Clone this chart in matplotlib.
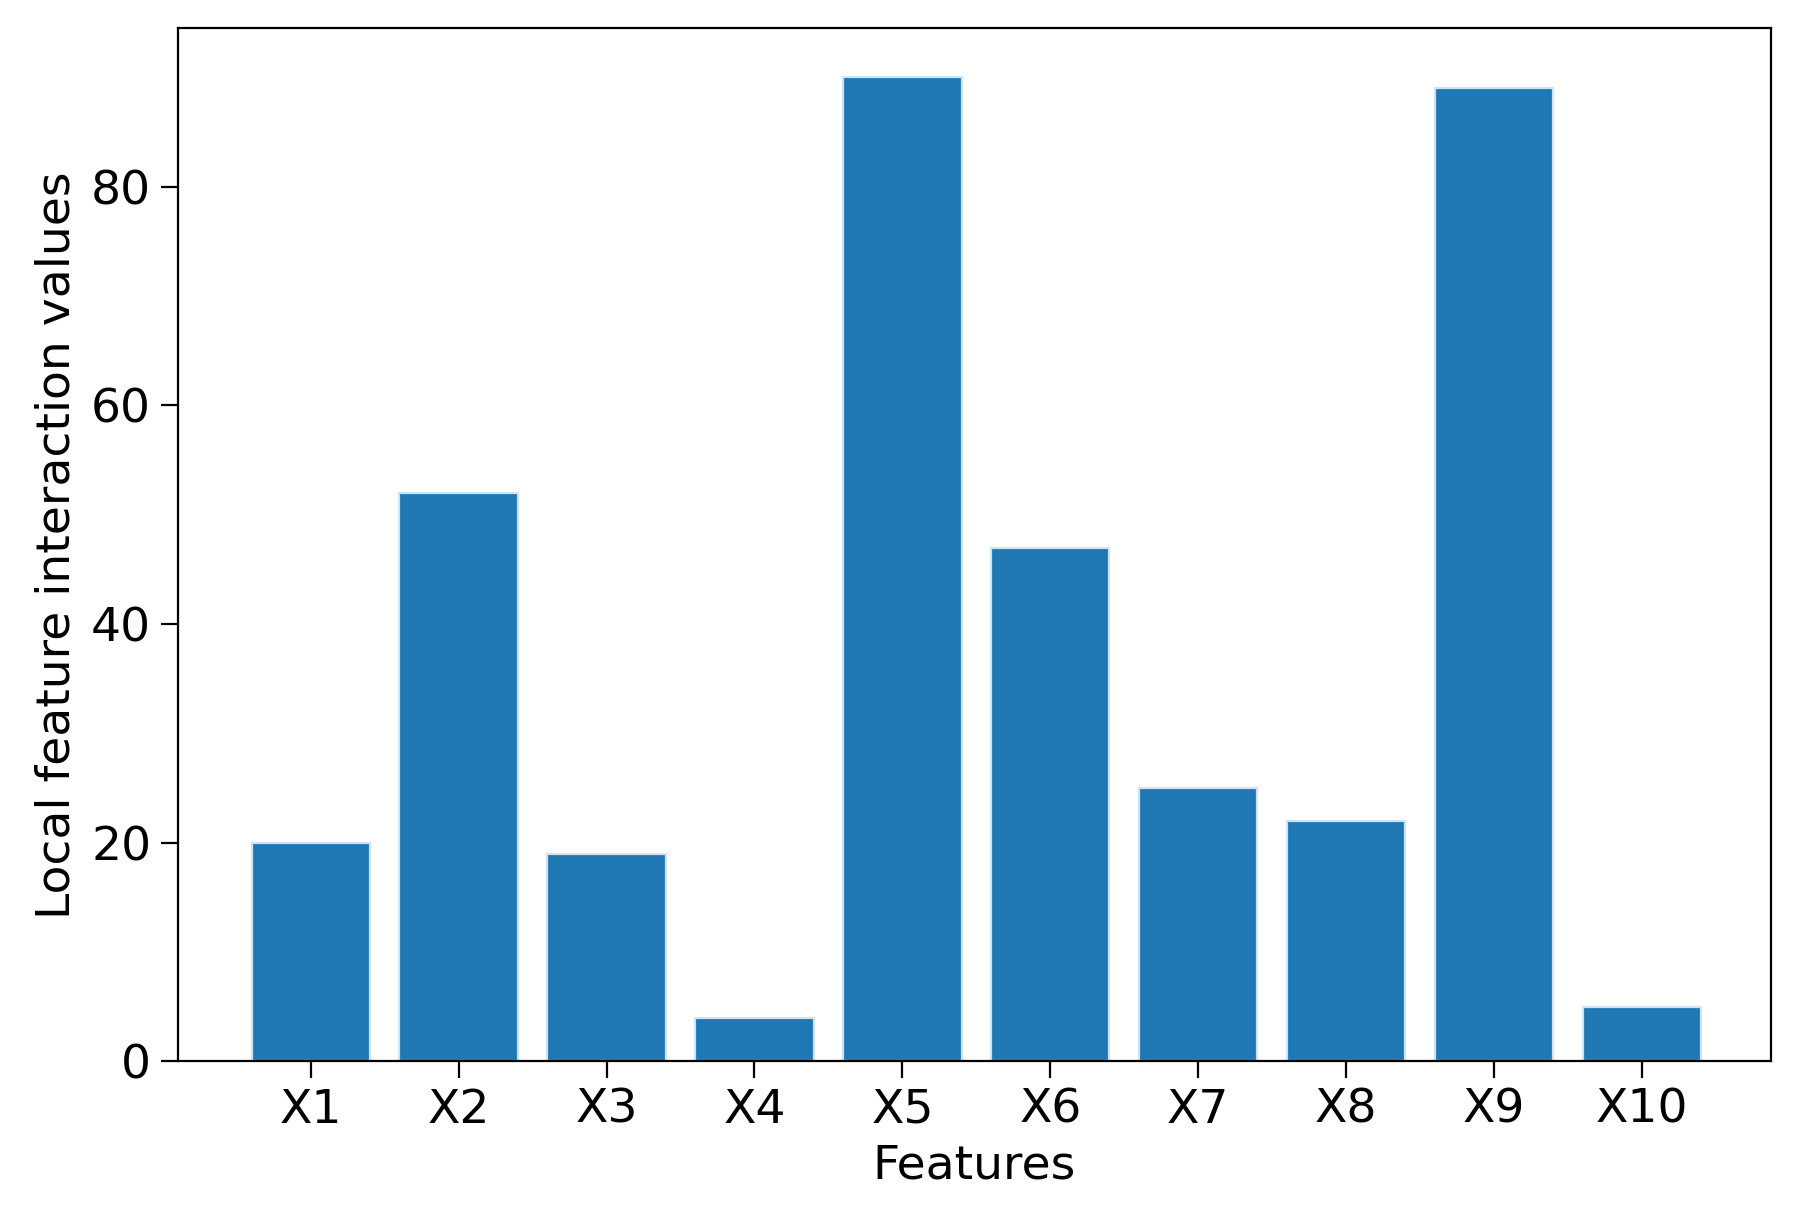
import matplotlib
matplotlib.use("Agg")
import matplotlib.pyplot as plt

features = ["X1", "X2", "X3", "X4", "X5", "X6", "X7", "X8", "X9", "X10"]
values = [20, 52, 19, 4, 90, 47, 25, 22, 89, 5]

fig = plt.figure(figsize=(8.97, 6.135), dpi=200)
ax = fig.add_axes([0.099, 0.135, 0.888, 0.842])
ax.bar(range(len(features)), values, width=0.8, color="#1f77b4", edgecolor="#cfe3f2", linewidth=0.8)
ax.set_xticks(range(len(features)))
ax.set_xticklabels(features)
ax.set_xlim(-0.9, 9.87)
ax.set_yticks([0, 20, 40, 60, 80])
ax.tick_params(labelsize=17, length=6)
ax.set_xlabel("Features", fontsize=17)
ax.set_ylabel("Local feature interaction values", fontsize=17)
fig.savefig("out.png", dpi=200)
